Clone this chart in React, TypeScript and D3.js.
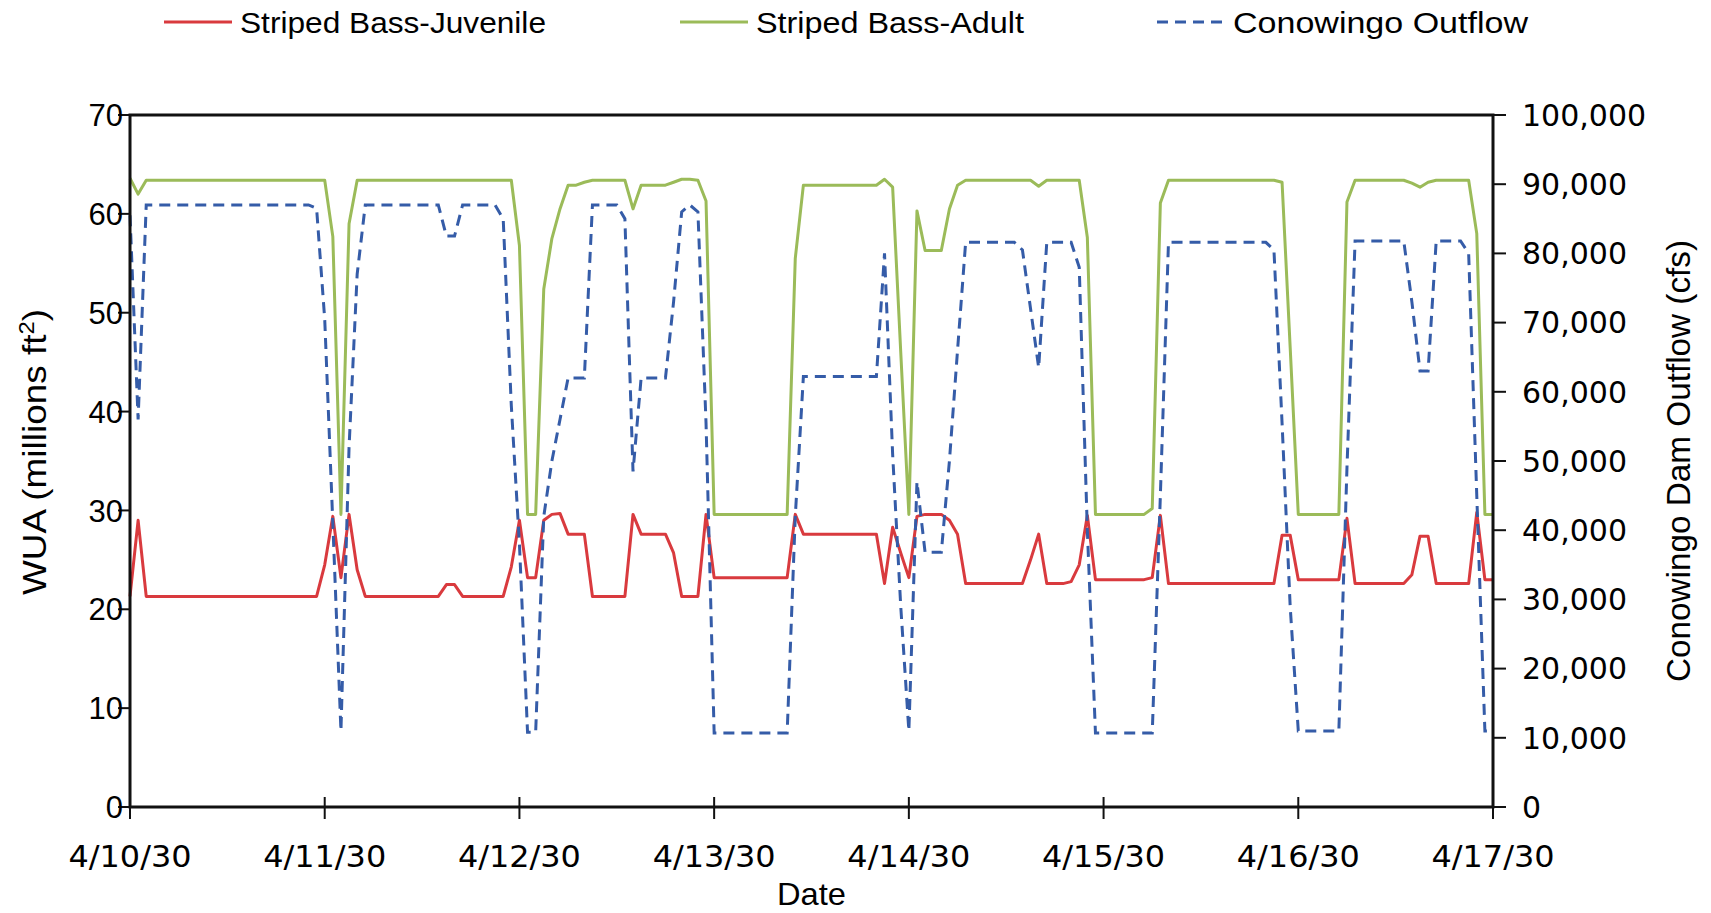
import React from "react";
import * as d3 from "d3";

// X axis: hours since 4/10/30 00:00, one tick per day
const dayLabels = ["4/10/30", "4/11/30", "4/12/30", "4/13/30", "4/14/30", "4/15/30", "4/16/30", "4/17/30"];
const dayTickHours = [0, 24, 48, 72, 96, 120, 144, 168];
const leftTicks = [0, 10, 20, 30, 40, 50, 60, 70];
const rightTicks = [0, 10000, 20000, 30000, 40000, 50000, 60000, 70000, 80000, 90000, 100000];

// WUA, Striped Bass-Juvenile (millions ft2), hourly h0..h168
const juvenile: number[] = [
  21.3, 29.0, 21.3, 21.3, 21.3, 21.3, 21.3, 21.3, 21.3, 21.3, 21.3, 21.3, 21.3, 21.3, 21.3, 21.3, 21.3, 21.3, 21.3, 21.3, 21.3, 21.3, 21.3, 21.3,
  24.5, 29.4, 23.2, 29.6, 24.0, 21.3, 21.3, 21.3, 21.3, 21.3, 21.3, 21.3, 21.3, 21.3, 21.3, 22.5, 22.5, 21.3, 21.3, 21.3, 21.3, 21.3, 21.3, 24.3,
  29.0, 23.2, 23.2, 29.0, 29.6, 29.7, 27.6, 27.6, 27.6, 21.3, 21.3, 21.3, 21.3, 21.3, 29.6, 27.6, 27.6, 27.6, 27.6, 25.7, 21.3, 21.3, 21.3, 29.6,
  23.2, 23.2, 23.2, 23.2, 23.2, 23.2, 23.2, 23.2, 23.2, 23.2, 29.6, 27.6, 27.6, 27.6, 27.6, 27.6, 27.6, 27.6, 27.6, 27.6, 27.6, 22.6, 28.3, 25.7,
  23.2, 29.4, 29.6, 29.6, 29.6, 29.0, 27.6, 22.6, 22.6, 22.6, 22.6, 22.6, 22.6, 22.6, 22.6, 25.0, 27.6, 22.6, 22.6, 22.6, 22.8, 24.5, 29.5, 23.0,
  23.0, 23.0, 23.0, 23.0, 23.0, 23.0, 23.2, 29.5, 22.6, 22.6, 22.6, 22.6, 22.6, 22.6, 22.6, 22.6, 22.6, 22.6, 22.6, 22.6, 22.6, 22.6, 27.5, 27.5,
  23.0, 23.0, 23.0, 23.0, 23.0, 23.0, 29.2, 22.6, 22.6, 22.6, 22.6, 22.6, 22.6, 22.6, 23.5, 27.4, 27.4, 22.6, 22.6, 22.6, 22.6, 22.6, 29.8, 23.0,
  23.0,
];

// WUA, Striped Bass-Adult (millions ft2), hourly h0..h168
const adult: number[] = [
  63.6, 62.0, 63.4, 63.4, 63.4, 63.4, 63.4, 63.4, 63.4, 63.4, 63.4, 63.4, 63.4, 63.4, 63.4, 63.4, 63.4, 63.4, 63.4, 63.4, 63.4, 63.4, 63.4, 63.4,
  63.4, 57.7, 29.6, 59.0, 63.4, 63.4, 63.4, 63.4, 63.4, 63.4, 63.4, 63.4, 63.4, 63.4, 63.4, 63.4, 63.4, 63.4, 63.4, 63.4, 63.4, 63.4, 63.4, 63.4,
  56.8, 29.6, 29.6, 52.4, 57.5, 60.5, 62.9, 62.9, 63.2, 63.4, 63.4, 63.4, 63.4, 63.4, 60.5, 62.9, 62.9, 62.9, 62.9, 63.2, 63.5, 63.5, 63.4, 61.3,
  29.6, 29.6, 29.6, 29.6, 29.6, 29.6, 29.6, 29.6, 29.6, 29.6, 55.5, 62.9, 62.9, 62.9, 62.9, 62.9, 62.9, 62.9, 62.9, 62.9, 62.9, 63.5, 62.7, 46.0,
  29.6, 60.3, 56.3, 56.3, 56.3, 60.5, 62.9, 63.4, 63.4, 63.4, 63.4, 63.4, 63.4, 63.4, 63.4, 63.4, 62.8, 63.4, 63.4, 63.4, 63.4, 63.4, 57.6, 29.6,
  29.6, 29.6, 29.6, 29.6, 29.6, 29.6, 30.2, 61.1, 63.4, 63.4, 63.4, 63.4, 63.4, 63.4, 63.4, 63.4, 63.4, 63.4, 63.4, 63.4, 63.4, 63.4, 63.2, 46.5,
  29.6, 29.6, 29.6, 29.6, 29.6, 29.6, 61.2, 63.4, 63.4, 63.4, 63.4, 63.4, 63.4, 63.4, 63.1, 62.7, 63.2, 63.4, 63.4, 63.4, 63.4, 63.4, 58.0, 29.6,
  29.6,
];

// Conowingo Dam Outflow (cfs), hourly h0..h168
const outflow: number[] = [
  85500, 56000, 87000, 87000, 87000, 87000, 87000, 87000, 87000, 87000, 87000, 87000, 87000, 87000, 87000, 87000, 87000, 87000, 87000, 87000, 87000, 87000, 87000, 86500,
  70500, 41000, 11000, 52000, 77000, 87000, 87000, 87000, 87000, 87000, 87000, 87000, 87000, 87000, 87000, 82500, 82500, 87000, 87000, 87000, 87000, 87000, 85000, 58000,
  38000, 10800, 10800, 42000, 50000, 56000, 62000, 62000, 62000, 87000, 87000, 87000, 87000, 85000, 48500, 62000, 62000, 62000, 62000, 73000, 86000, 87000, 86000, 55500,
  10700, 10700, 10700, 10700, 10700, 10700, 10700, 10700, 10700, 10700, 42000, 62200, 62200, 62200, 62200, 62200, 62200, 62200, 62200, 62200, 62200, 80000, 51000, 29000,
  11000, 47000, 36800, 36800, 36800, 50000, 66000, 81600, 81600, 81600, 81600, 81600, 81600, 81600, 80500, 72000, 63500, 81600, 81600, 81600, 81600, 78000, 40000, 10700,
  10700, 10700, 10700, 10700, 10700, 10700, 10700, 45000, 81600, 81600, 81600, 81600, 81600, 81600, 81600, 81600, 81600, 81600, 81600, 81600, 81600, 80500, 55500, 29000,
  11000, 11000, 11000, 11000, 11000, 11000, 49000, 81800, 81800, 81800, 81800, 81800, 81800, 81800, 73000, 63000, 63000, 81800, 81800, 81800, 81800, 80000, 45000, 11000,
  11000,
];

const legendItems = [
  { label: "Striped Bass-Juvenile", color: "#D93A3E", dash: "", x0: 164, x1: 232, tx: 240, tw: 306 },
  { label: "Striped Bass-Adult", color: "#9BBB59", dash: "", x0: 680, x1: 748, tx: 756, tw: 268 },
  { label: "Conowingo Outflow", color: "#355CA8", dash: "11 7", x0: 1157, x1: 1224, tx: 1233, tw: 295 },
];

const W = 1711;
const H = 913;
const L = 130, R = 1493, T = 115, B = 807;

export default function App() {
  const x = d3.scaleLinear().domain([0, 168]).range([L, R]);
  const yL = d3.scaleLinear().domain([0, 70]).range([B, T]);
  const yR = d3.scaleLinear().domain([0, 100000]).range([B, T]);
  const hours = juvenile.map((_, i) => i);

  const lineL = d3.line<number>().x((i) => x(i)).y((v) => 0);
  const juvPath = d3.line<number>().x((_, i) => x(hours[i])).y((v) => yL(v))(juvenile) || "";
  const adultPath = d3.line<number>().x((_, i) => x(hours[i])).y((v) => yL(v))(adult) || "";
  const flowPath = d3.line<number>().x((_, i) => x(hours[i])).y((v) => yR(v))(outflow) || "";
  void lineL;

  const fmt = d3.format(",");
  const sans = "'Liberation Sans', Arial, sans-serif";
  const dv = "'DejaVu Sans', Verdana, sans-serif";

  return (
    <svg width={W} height={H} style={{ position: "absolute", left: 0, top: 0, background: "#fff" }}>
      <rect x={0} y={0} width={W} height={H} fill="#fff" />
      {/* legend */}
      {legendItems.map((d) => (
        <g key={d.label}>
          <line x1={d.x0} x2={d.x1} y1={22} y2={22} stroke={d.color} strokeWidth={3} strokeDasharray={d.dash || undefined} />
          <text x={d.tx} y={33} fontFamily={sans} fontSize={30} fill="#000" textLength={d.tw} lengthAdjust="spacingAndGlyphs">
            {d.label}
          </text>
        </g>
      ))}

      {/* series */}
      <path d={juvPath} fill="none" stroke="#D93A3E" strokeWidth={3} strokeLinejoin="round" />
      <path d={adultPath} fill="none" stroke="#9BBB59" strokeWidth={3} strokeLinejoin="round" />
      <path d={flowPath} fill="none" stroke="#355CA8" strokeWidth={3} strokeDasharray="11 7" />

      {/* frame */}
      <rect x={L} y={T} width={R - L} height={B - T} fill="none" stroke="#111" strokeWidth={3} />

      {/* left axis */}
      {leftTicks.map((v) => (
        <g key={"l" + v}>
          <line x1={L - 12} x2={L} y1={yL(v)} y2={yL(v)} stroke="#111" strokeWidth={2} />
          <text x={123} y={yL(v)} dy="0.36em" textAnchor="end" fontFamily={sans} fontSize={31} fill="#000">
            {v}
          </text>
        </g>
      ))}

      {/* right axis */}
      {rightTicks.map((v) => (
        <g key={"r" + v}>
          <line x1={R} x2={R + 13} y1={yR(v)} y2={yR(v)} stroke="#111" strokeWidth={2} />
          <text x={1522} y={yR(v)} dy="0.36em" textAnchor="start" fontFamily={dv} fontSize={30} fill="#000">
            {fmt(v)}
          </text>
        </g>
      ))}

      {/* bottom axis */}
      {dayTickHours.map((h, i) => (
        <g key={"b" + h}>
          <line x1={x(h)} x2={x(h)} y1={B - 10} y2={B + 12} stroke="#111" strokeWidth={2} />
          <text x={x(h)} y={867} textAnchor="middle" fontFamily={dv} fontSize={30} fill="#000" textLength={123} lengthAdjust="spacingAndGlyphs">
            {dayLabels[i]}
          </text>
        </g>
      ))}

      {/* axis titles */}
      <text x={(L + R) / 2} y={905} textAnchor="middle" fontFamily={sans} fontSize={32} fill="#000" textLength={69} lengthAdjust="spacingAndGlyphs">
        Date
      </text>
      <text transform={`translate(46, ${(309 + 595) / 2}) rotate(-90)`} textAnchor="middle" fontFamily={sans} fontSize={34} fill="#000" textLength={286} lengthAdjust="spacingAndGlyphs">
        WUA (millions ft<tspan baselineShift="super" fontSize={22}>2</tspan>)
      </text>
      <text transform={`translate(1690, ${(240 + 682) / 2}) rotate(-90)`} textAnchor="middle" fontFamily={sans} fontSize={33} fill="#000" textLength={442} lengthAdjust="spacingAndGlyphs">
        Conowingo Dam Outflow (cfs)
      </text>
    </svg>
  );
}
